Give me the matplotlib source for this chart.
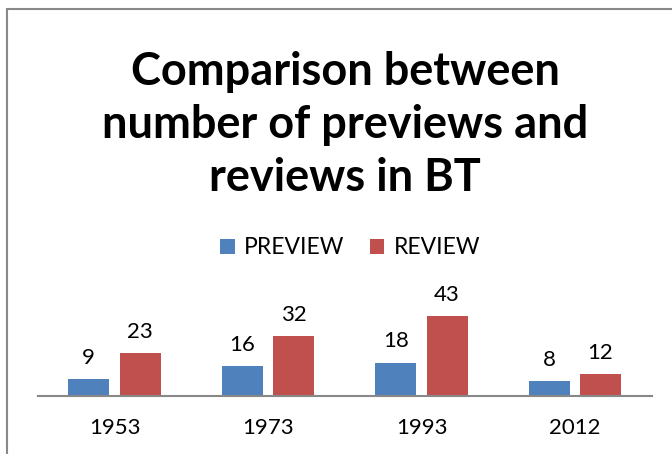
import matplotlib
matplotlib.use("Agg")
import matplotlib.pyplot as plt
import numpy as np
from matplotlib.patches import Rectangle

categories = ["1953", "1973", "1993", "2012"]
preview = [9, 16, 18, 8]
review = [23, 32, 43, 12]
series_names = ["PREVIEW", "REVIEW"]
colors = ["#4F81BD", "#C0504D"]
title = "Comparison between\nnumber of previews and\nreviews in BT"

plt.rcParams['font.family'] = ['Lato', 'DejaVu Sans']

W, H = 672, 454
fig = plt.figure(figsize=(W/100, H/100), dpi=100)

# chart border
fig.patches.append(Rectangle((7/W, -0.1), 1.2, (H-9.5)/H + 0.1, transform=fig.transFigure,
                             fill=False, edgecolor="#888888", linewidth=1.5))

ax = fig.add_axes([38/W, 58/H, 614/W, 93/H])
x = np.arange(len(categories))
bw = 0.267
b1 = ax.bar(x - 0.17, preview, bw, color=colors[0], label=series_names[0])
b2 = ax.bar(x + 0.165, review, bw, color=colors[1], label=series_names[1])
for bars, vals in [(b1, preview), (b2, review)]:
    for b, v in zip(bars, vals):
        ax.annotate(str(v), (b.get_x() + b.get_width()/2, v), xytext=(0, 8),
                    textcoords="offset points", ha="center", va="bottom", fontsize=16)
ax.set_xlim(-0.5, len(categories) - 0.5)
ax.set_ylim(0, 50)
ax.set_yticks([])
ax.set_xticks(x)
ax.set_xticklabels(categories, fontsize=16)
ax.tick_params(axis='x', length=0, pad=16)
for s in ["top", "right", "left"]:
    ax.spines[s].set_visible(False)
ax.spines["bottom"].set_color("#888888")
ax.spines["bottom"].set_linewidth(1.5)

fig.text(345/W, 1 - 125/H, title, ha="center", va="center", fontsize=32.5,
         fontweight="bold", linespacing=1.32)

fig.legend(handles=[b1, b2], labels=series_names, loc="center",
           bbox_to_anchor=(350/W, 1 - 248/H), ncol=2, frameon=False, fontsize=16.5,
           handlelength=0.65, handleheight=0.65, handletextpad=0.4, columnspacing=1.1)

fig.savefig("out.png", dpi=100)
